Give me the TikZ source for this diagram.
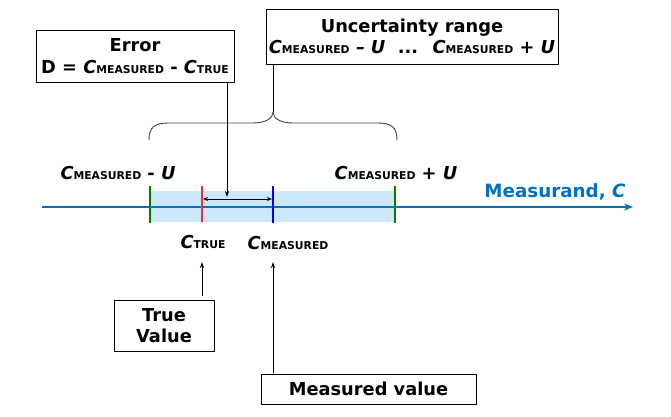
\documentclass[tikz,border=0pt]{standalone}
\usepackage{fontspec}
\setmainfont{DejaVu Sans}
\usepackage{xcolor}
\usetikzlibrary{arrows.meta,calc,positioning}
\definecolor{axisblue}{RGB}{0,112,192}
\definecolor{bandblue}{RGB}{204,232,250}
\definecolor{tickgreen}{RGB}{0,128,0}
\definecolor{tickred}{RGB}{235,50,50}
\definecolor{tickblue}{RGB}{0,0,235}
\newcommand{\Cq}[1]{\textit{C}{\fontsize{10.8}{11}\selectfont #1}}
\tikzset{
  txtbox/.style={draw, line width=0.9pt, font=\fontsize{17.8}{21}\selectfont\bfseries, align=center, inner sep=0pt},
  lbl/.style={font=\fontsize{17.8}{21}\selectfont\bfseries, inner sep=0pt},
  tick/.style={line width=1.6pt},
  ptr/.style={line width=0.8pt, -{Stealth[length=6pt,width=4pt]}},
  every picture/.style={line cap=butt, line join=round}
}

\begin{document}
\begin{tikzpicture}[x=1pt,y=-1pt]
    \useasboundingbox (0,0) rectangle (671,416);

    % shaded uncertainty band
    \fill[bandblue] (150,191) rectangle (395,222);
    \draw[axisblue, line width=1.6pt, -{Stealth[length=9pt,width=7pt,open]}] (42,207) -- (633,207);
    \draw[tick, tickgreen] (150,186) -- (150,223);
    \draw[tick, tickgreen] (395,186) -- (395,223);
    \draw[line width=1.2pt, tickred] (202,186) -- (202,222);
    \draw[tick, tickblue] (273,186) -- (273,223);

    \coordinate (ta) at (203,199);
    \coordinate (ma) at (272,199);
    \draw[line width=0.8pt, {Stealth[length=5pt,width=4pt]}-{Stealth[length=5pt,width=4pt]}] (ta) -- (ma);

    % boxes
    \node[txtbox, minimum width=198pt, minimum height=52pt] (err) at (135,56)
      {Error\\[1pt] D = \Cq{MEASURED} - \Cq{TRUE}};
    \node[txtbox, minimum width=292pt, minimum height=55pt] (unc) at (412,36.5)
      {Uncertainty range\\[0pt] \Cq{MEASURED} \textbf{–} \textit{U} \ \textbf{...} \ \Cq{MEASURED} + \textit{U}};
    \node[txtbox, minimum width=100pt, minimum height=51pt] (tv) at (164,325.5)
      {True\\Value};
    \node[txtbox, minimum width=215pt, minimum height=30pt] (mv) at (368.5,389)
      {Measured value};

    % brace
    \coordinate (tip) at (273,112);
    \draw[line width=0.9pt, black!75] (149,140) .. controls (149,128) and (154,123) .. (168,123)
      -- (253,123) .. controls (266,123) and (273,118) .. (tip)
      .. controls (273,118) and (280,123) .. (293,123)
      -- (378,123) .. controls (392,123) and (397,128) .. (397,140);
    \draw[line width=0.9pt] (unc.south -| tip) -- (tip);

    % error pointer
    \coordinate (etip) at (227,197);
    \draw[ptr] (err.south -| etip) -- (etip);

    % labels
    \node[lbl] (lo) at (118,173) {\Cq{MEASURED} - \textit{U}};
    \node[lbl] (hi) at (396,173) {\Cq{MEASURED} + \textit{U}};
    \node[lbl, text=axisblue, font=\fontsize{18.3}{21}\selectfont\bfseries] (meas) at (555,192) {Measurand, \textit{C}};
    \node[lbl] (ct) at (203,242) {\Cq{TRUE}};
    \node[lbl] (cm) at (288,243) {\Cq{MEASURED}};

    % pointers from boxes
    \coordinate (ctip) at (202,262);
    \coordinate (mtip) at (273,262);
    \draw[ptr, shorten <=4pt] (tv.north -| ctip) -- (ctip);
    \draw[ptr, shorten <=1pt] (mv.north -| mtip) -- (mtip);
\end{tikzpicture}
\end{document}
